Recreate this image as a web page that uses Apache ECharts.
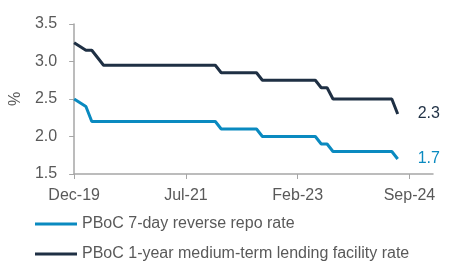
<!DOCTYPE html>
<html><head><meta charset="utf-8">
<script src="https://cdn.jsdelivr.net/npm/echarts@6/dist/echarts.min.js"></script>
<style>html,body{margin:0;padding:0;background:#fff}#c{width:450px;height:270px}</style>
</head><body><div id="c"></div>
<script>
// Monthly categories Dec-19 .. Jan-25
const months = ['Jan','Feb','Mar','Apr','May','Jun','Jul','Aug','Sep','Oct','Nov','Dec'];
const categories = [];
for (let i = 0; i < 62; i++) {
  const m = (11 + i) % 12;
  const y = 19 + Math.floor((11 + i) / 12);
  categories.push(months[m] + '-' + y);
}
const seriesNames = ['PBoC 7-day reverse repo rate', 'PBoC 1-year medium-term lending facility rate'];
// Dec-19 .. Jul-24 (56 months)
const reverseRepo = [
  2.50, 2.45, 2.40, 2.20, 2.20, 2.20, 2.20, 2.20, 2.20, 2.20, 2.20, 2.20, 2.20,
  2.20, 2.20, 2.20, 2.20, 2.20, 2.20, 2.20, 2.20, 2.20, 2.20, 2.20, 2.20,
  2.10, 2.10, 2.10, 2.10, 2.10, 2.10, 2.10,
  2.00, 2.00, 2.00, 2.00, 2.00, 2.00, 2.00, 2.00, 2.00, 2.00,
  1.90, 1.90,
  1.80, 1.80, 1.80, 1.80, 1.80, 1.80, 1.80, 1.80, 1.80, 1.80, 1.80,
  1.70
];
const mlf = [
  3.25, 3.20, 3.15, 3.15, 3.05, 2.95, 2.95, 2.95, 2.95, 2.95, 2.95, 2.95, 2.95,
  2.95, 2.95, 2.95, 2.95, 2.95, 2.95, 2.95, 2.95, 2.95, 2.95, 2.95, 2.95,
  2.85, 2.85, 2.85, 2.85, 2.85, 2.85, 2.85,
  2.75, 2.75, 2.75, 2.75, 2.75, 2.75, 2.75, 2.75, 2.75, 2.75,
  2.65, 2.65,
  2.50, 2.50, 2.50, 2.50, 2.50, 2.50, 2.50, 2.50, 2.50, 2.50, 2.50,
  2.30
];
const yTicks = { min: 1.5, max: 3.5, interval: 0.5 };
const colors = ['#0a8ac0', '#1f3044'];
const font = 'Liberation Sans, Arial, sans-serif';
const gray = '#595959';

const chart = echarts.init(document.getElementById('c'));
chart.setOption({
  animation: false,
  grid: { left: 68, right: 17, top: 24, bottom: 96, containLabel: false },
  legend: {
    orient: 'vertical', left: 30, top: 211, itemGap: 14,
    itemWidth: 42, itemHeight: 3, icon: 'rect',
    textStyle: { fontFamily: font, fontSize: 16, color: gray },
    data: seriesNames
  },
  xAxis: {
    type: 'category', data: categories, boundaryGap: false,
    axisLine: { lineStyle: { color: '#a6a6a6', width: 1.5 } },
    axisTick: { interval: 18, length: 5, lineStyle: { color: '#a6a6a6' } },
    axisLabel: { interval: 18, margin: 14, fontFamily: font, fontSize: 16, color: gray },
    splitLine: { show: false }
  },
  yAxis: {
    type: 'value', min: yTicks.min, max: yTicks.max, interval: yTicks.interval,
    name: '%', nameLocation: 'middle', nameGap: 50, nameRotate: 90,
    nameTextStyle: { fontFamily: font, fontSize: 16, color: gray },
    axisLine: { show: true, lineStyle: { color: '#a6a6a6', width: 1.5 } },
    axisTick: { show: true, length: 5, lineStyle: { color: '#a6a6a6' } },
    axisLabel: { margin: 17, fontFamily: font, fontSize: 16, color: gray, formatter: v => v.toFixed(1) },
    splitLine: { show: false }
  },
  series: [
    { name: seriesNames[0], type: 'line', data: reverseRepo, showSymbol: false, symbol: 'none',
      lineStyle: { width: 3, color: colors[0] }, itemStyle: { color: colors[0] },
      endLabel: { show: true, distance: 20, fontFamily: font, fontSize: 16, color: colors[0],
        formatter: p => Number(p.value).toFixed(1) } },
    { name: seriesNames[1], type: 'line', data: mlf, showSymbol: false, symbol: 'none',
      lineStyle: { width: 3, color: colors[1] }, itemStyle: { color: colors[1] },
      endLabel: { show: true, distance: 20, fontFamily: font, fontSize: 16, color: colors[1],
        formatter: p => Number(p.value).toFixed(1) } }
  ]
});
</script></body></html>
